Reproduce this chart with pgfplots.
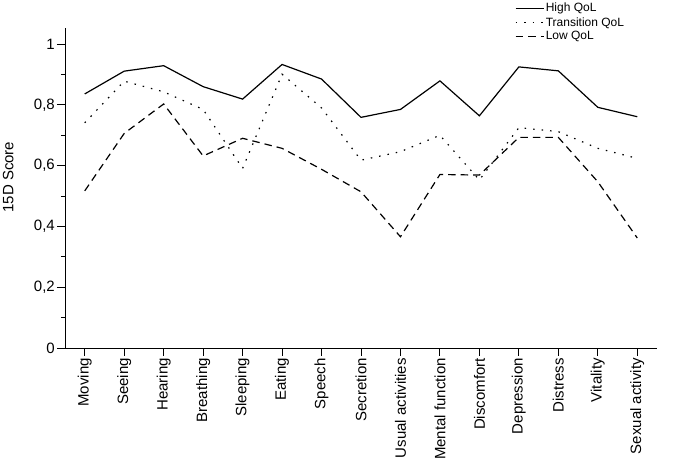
\documentclass[border=0pt]{standalone}
\usepackage{pgfplots}
\pgfplotsset{compat=1.18}
\usepackage{fontspec}
\setmainfont{Liberation Sans}

\begin{document}
\begin{tikzpicture}
\useasboundingbox (-65pt,-114pt) rectangle (620pt,348pt);
\begin{axis}[
   scale only axis,
   width=592pt, height=320pt,
   xmin=-0.5, xmax=14.5,
   ymin=0, ymax=1.053,
   axis x line*=bottom,
   axis y line*=left,
   axis line style={line width=0.9pt, -},
   xtick={0,...,14},
   xticklabels={Moving,Seeing,Hearing,Breathing,Sleeping,Eating,Speech,Secretion,Usual activities,Mental function,Discomfort,Depression,Distress,Vitality,Sexual activity},
   x tick label style={rotate=90, anchor=east, font=\fontsize{15}{17}\selectfont, inner sep=2pt},
   ytick={0,0.2,0.4,0.6,0.8,1},
   minor ytick={0.1,0.3,0.5,0.7,0.9},
   yticklabels={0,{0,2},{0,4},{0,6},{0,8},1},
   y tick label style={font=\fontsize{15}{17}\selectfont, inner sep=2pt},
   tick align=outside,
   major tick length=8pt,
   minor tick length=4pt,
   tick style={line width=0.9pt, black},
   ylabel={15D Score},
   ylabel style={font=\fontsize{15}{17}\selectfont, at={(rel axis cs:-0.096,0.534)}, anchor=center},
   legend style={draw=none, fill=none, at={(rel axis cs:0.76,1.083)}, anchor=north west,
      font=\fontsize{12}{13}\selectfont,
      nodes={inner sep=1.5pt},
      row sep=1pt, inner sep=0pt,
      legend cell align=left},
   legend image code/.code={\draw[#1] (0pt,0pt) -- (28pt,0pt);},
]
\addplot[black, line width=1.2pt] coordinates {
(0,0.836) (1,0.911) (2,0.929) (3,0.860) (4,0.819) (5,0.933) (6,0.885) (7,0.759)
(8,0.785) (9,0.879) (10,0.764) (11,0.925) (12,0.912) (13,0.792) (14,0.761)
};
\addlegendentry{High QoL}
\addplot[black, line width=1.2pt, dash pattern=on 1.5pt off 7pt] coordinates {
(0,0.741) (1,0.878) (2,0.843) (3,0.785) (4,0.591) (5,0.901) (6,0.790) (7,0.618)
(8,0.646) (9,0.700) (10,0.553) (11,0.725) (12,0.712) (13,0.657) (14,0.624)
};
\addlegendentry{Transition QoL}
\addplot[black, line width=1.2pt, dash pattern=on 7.5pt off 5pt] coordinates {
(0,0.517) (1,0.706) (2,0.803) (3,0.632) (4,0.690) (5,0.657) (6,0.588) (7,0.514)
(8,0.366) (9,0.571) (10,0.569) (11,0.693) (12,0.693) (13,0.547) (14,0.362)
};
\addlegendentry{Low QoL}
\end{axis}
\end{tikzpicture}
\end{document}
